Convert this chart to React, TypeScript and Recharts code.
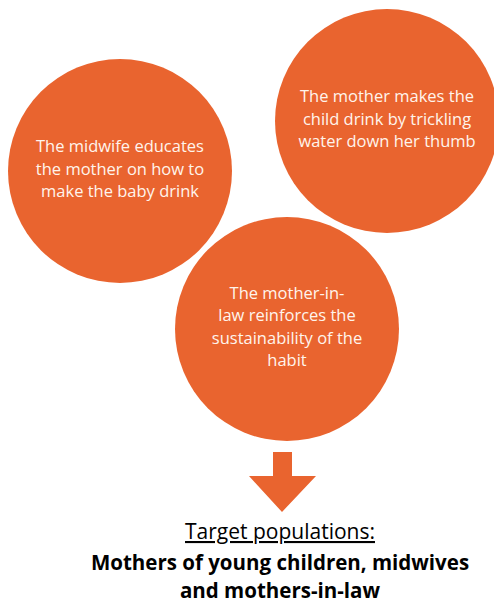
import React from 'react';
import { ScatterChart, Scatter, XAxis, YAxis } from 'recharts';

// the three steps of the habit, one circle each
const stepLines = [
  ['The midwife educates', 'the mother on how to', 'make the baby drink'],
  ['The mother makes the', 'child drink by trickling', 'water down her thumb'],
  ['The mother-in-', 'law reinforces the', 'sustainability of the', 'habit'],
];
const stepX = [120, 387, 287];
const stepY = [171, 121, 329];

// arrow pointing at the target group
const arrowX = [282];
const arrowY = [482];

const targetTitle = 'Target populations:';
const targetLines = ['Mothers of young children, midwives', 'and mothers-in-law'];
const targetX = [280];
const targetY = [539];

const W = 494;
const H = 604;
const orange = '#E9642F';

const steps = stepLines.map((lines, i) => ({ x: stepX[i], y: stepY[i], lines }));
const arrows = arrowX.map((x, i) => ({ x, y: arrowY[i] }));
const targets = targetX.map((x, i) => ({ x, y: targetY[i] }));

const StepShape = (props: any) => {
  const { cx, cy, payload } = props;
  const lines: string[] = payload.lines;
  const lh = 22.5;
  const start = cy - ((lines.length - 1) * lh) / 2 - 3;
  return (
    <g>
      <circle cx={cx} cy={cy} r={112} fill={orange} />
      {lines.map((l, i) => (
        <text
          key={i}
          x={cx}
          y={start + i * lh}
          textAnchor="middle"
          dominantBaseline="central"
          fill="#FFF4EC"
          fontFamily="'Open Sans', sans-serif"
          fontSize={16.5}
        >
          {l}
        </text>
      ))}
    </g>
  );
};

const ArrowShape = (props: any) => {
  const { cx, cy } = props;
  // stem from y-30 to y-6, head from y-6 to y+30
  const pts = [
    [cx - 9, cy - 30],
    [cx + 10, cy - 30],
    [cx + 10, cy - 6],
    [cx + 34, cy - 6],
    [cx, cy + 30],
    [cx - 33, cy - 6],
    [cx - 9, cy - 6],
  ]
    .map((p) => p.join(','))
    .join(' ');
  return <polygon points={pts} fill={orange} />;
};

const TargetShape = (props: any) => {
  const { cx, cy } = props;
  return (
    <g fontFamily="'Open Sans', sans-serif" fill="#000">
      <text x={cx} y={cy} textAnchor="middle" fontSize={21} textDecoration="underline">
        {targetTitle}
      </text>
      <text x={cx} y={cy + 31} textAnchor="middle" fontSize={20.5} fontWeight="bold">
        {targetLines[0]}
      </text>
      <text x={cx} y={cy + 59} textAnchor="middle" fontSize={20.5} fontWeight="bold">
        {targetLines[1]}
      </text>
    </g>
  );
};

export default function App() {
  return (
    <div style={{ position: 'absolute', left: 0, top: 0, width: W, height: H, background: '#fff' }}>
      <ScatterChart width={W} height={H} margin={{ top: 0, right: 0, bottom: 0, left: 0 }}>
        <XAxis type="number" dataKey="x" domain={[0, W]} hide />
        <YAxis type="number" dataKey="y" domain={[0, H]} reversed hide />
        <Scatter data={steps} shape={StepShape} isAnimationActive={false} />
        <Scatter data={arrows} shape={ArrowShape} isAnimationActive={false} />
        <Scatter data={targets} shape={TargetShape} isAnimationActive={false} />
      </ScatterChart>
    </div>
  );
}
